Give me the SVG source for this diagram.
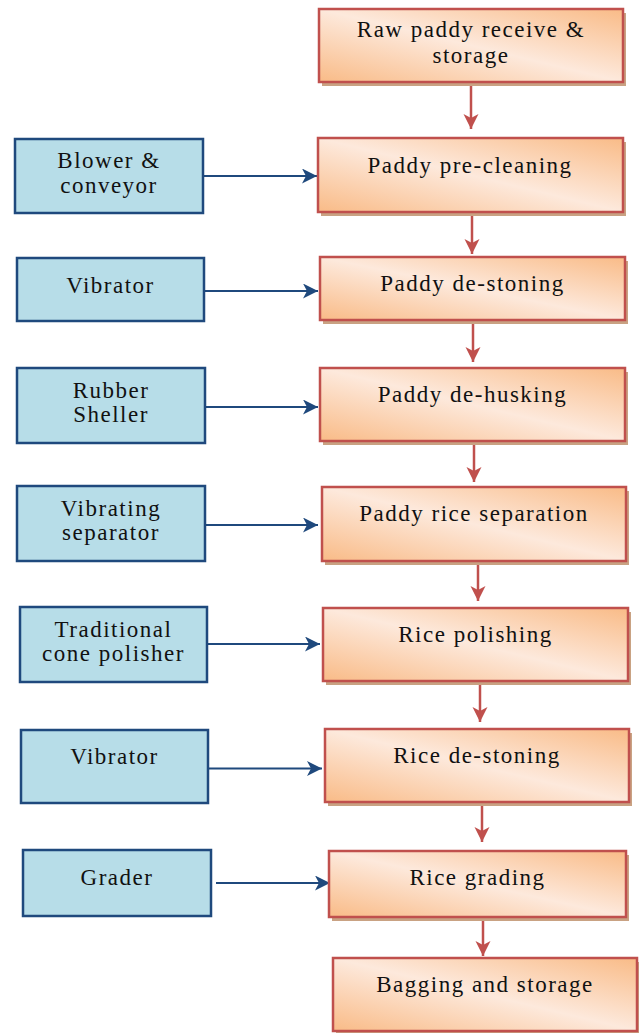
<svg xmlns="http://www.w3.org/2000/svg" width="639" height="1033" viewBox="0 0 639 1033">
<defs>
<linearGradient id="og" x1="0" y1="1" x2="1" y2="0">
<stop offset="0" stop-color="#f9bb87"/>
<stop offset="0.5" stop-color="#fde9dc"/>
<stop offset="1" stop-color="#f9bb87"/>
</linearGradient>
<marker id="ar" markerUnits="userSpaceOnUse" markerWidth="16" markerHeight="16" refX="15" refY="7.5" orient="auto">
<path d="M0,0 L15,7.5 L0,15 L4,7.5 Z" fill="#c0504d"/>
</marker>
<marker id="ab" markerUnits="userSpaceOnUse" markerWidth="16" markerHeight="16" refX="15" refY="7.5" orient="auto">
<path d="M0,0 L15,7.5 L0,15 L4,7.5 Z" fill="#1f497d"/>
</marker>
</defs>
<style>
.sh{fill:#c9a283}
.ob{fill:url(#og);stroke:#c0504d;stroke-width:2.5}
.bb{fill:#b7dde8;stroke:#1f497d;stroke-width:2.5}
.rl{stroke:#c0504d;stroke-width:2.5;fill:none;marker-end:url(#ar)}
.bl{stroke:#1f497d;stroke-width:2.2;fill:none;marker-end:url(#ab)}
</style>
<rect width="639" height="1033" fill="#fff"/>
<g id="connectors">
<line class="rl" x1="471" y1="83" x2="471" y2="129"/>
<line class="rl" x1="472" y1="212" x2="472" y2="254"/>
<line class="rl" x1="473" y1="320" x2="473" y2="362"/>
<line class="rl" x1="474" y1="441" x2="474" y2="482"/>
<line class="rl" x1="478" y1="561" x2="478" y2="601"/>
<line class="rl" x1="480" y1="681" x2="480" y2="722"/>
<line class="rl" x1="482" y1="802" x2="482" y2="842"/>
<line class="rl" x1="483" y1="917" x2="483" y2="956"/>
<line class="bl" x1="203" y1="176" x2="317" y2="176"/>
<line class="bl" x1="204" y1="291" x2="318" y2="291"/>
<line class="bl" x1="206" y1="407" x2="318" y2="407"/>
<line class="bl" x1="202" y1="525" x2="318" y2="525"/>
<line class="bl" x1="207" y1="644" x2="320" y2="644"/>
<line class="bl" x1="208" y1="768.5" x2="322" y2="768.5"/>
<line class="bl" x1="216" y1="883" x2="330" y2="883"/>
</g>
<g id="nodes" font-family="Liberation Serif" font-size="23" letter-spacing="1.5" fill="#111" text-anchor="middle">
<g id="raw-paddy">
<rect class="sh" x="322" y="13" width="304" height="73"/>
<rect class="ob" x="319" y="9" width="304" height="73"/>
<text x="471" y="37">Raw paddy receive &amp;</text>
<text x="471" y="62.5">storage</text>
</g>
<g id="pre-cleaning">
<rect class="sh" x="321" y="142" width="305" height="74"/>
<rect class="ob" x="318" y="138" width="305" height="74"/>
<text x="470" y="173">Paddy pre-cleaning</text>
</g>
<g id="paddy-destoning">
<rect class="sh" x="323" y="261" width="305" height="63"/>
<rect class="ob" x="320" y="257" width="305" height="63"/>
<text x="472.5" y="291">Paddy de-stoning</text>
</g>
<g id="dehusking">
<rect class="sh" x="323" y="372" width="305" height="73"/>
<rect class="ob" x="320" y="368" width="305" height="73"/>
<text x="472.5" y="402">Paddy de-husking</text>
</g>
<g id="separation">
<rect class="sh" x="325" y="491" width="304" height="74"/>
<rect class="ob" x="322" y="487" width="304" height="74"/>
<text x="474" y="521">Paddy rice separation</text>
</g>
<g id="polishing">
<rect class="sh" x="326" y="612" width="305" height="73"/>
<rect class="ob" x="323" y="608" width="305" height="73"/>
<text x="475.5" y="642">Rice polishing</text>
</g>
<g id="rice-destoning">
<rect class="sh" x="328" y="733" width="304" height="73"/>
<rect class="ob" x="325" y="729" width="304" height="73"/>
<text x="477" y="763">Rice de-stoning</text>
</g>
<g id="grading">
<rect class="sh" x="332" y="855" width="297" height="66"/>
<rect class="ob" x="329" y="851" width="297" height="66"/>
<text x="477.5" y="884.5">Rice grading</text>
</g>
<g id="bagging">
<rect class="sh" x="336" y="962" width="304" height="73"/>
<rect class="ob" x="333" y="958" width="304" height="73"/>
<text x="485" y="992">Bagging and storage</text>
</g>
<g id="blower">
<rect class="bb" x="15" y="139" width="188" height="74"/>
<text x="109" y="167.5">Blower &amp;</text>
<text x="109" y="193">conveyor</text>
</g>
<g id="vibrator1">
<rect class="bb" x="17" y="258" width="187" height="63"/>
<text x="110.5" y="293">Vibrator</text>
</g>
<g id="rubber-sheller">
<rect class="bb" x="17" y="368" width="188" height="75"/>
<text x="111" y="398">Rubber</text>
<text x="111" y="422">Sheller</text>
</g>
<g id="vibrating-separator">
<rect class="bb" x="17" y="486" width="188" height="75"/>
<text x="111" y="516">Vibrating</text>
<text x="111" y="540">separator</text>
</g>
<g id="cone-polisher">
<rect class="bb" x="20" y="607" width="187" height="75"/>
<text x="113.5" y="637">Traditional</text>
<text x="113.5" y="661">cone polisher</text>
</g>
<g id="vibrator2">
<rect class="bb" x="21" y="730" width="187" height="73"/>
<text x="114.5" y="763.5">Vibrator</text>
</g>
<g id="grader">
<rect class="bb" x="23" y="850" width="188" height="66"/>
<text x="117" y="885">Grader</text>
</g>
</g>
</svg>
